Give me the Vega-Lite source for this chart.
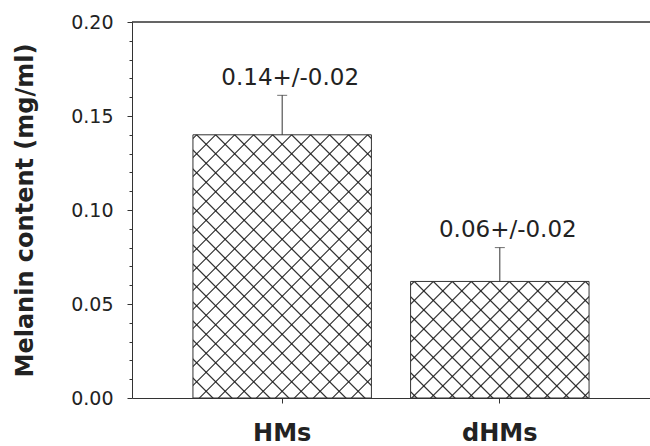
{
  "$schema": "https://vega.github.io/schema/vega-lite/v6.json",
  "width": 518,
  "height": 376,
  "autosize": {"type": "none"},
  "padding": {"left": 132, "top": 22, "right": 0, "bottom": 48},
  "background": "white",
  "config": {
    "view": {"stroke": null},
    "scale": {"bandPaddingInner": 0.18, "bandPaddingOuter": 0.28},
    "axisX": {"title": null, "labelAngle": 0, "labelFont": "DejaVu Sans", "labelFontWeight": "bold", "labelFontSize": 24, "labelColor": "#222", "labelBaseline": "alphabetic", "labelPadding": 37, "tickSize": 5, "tickColor": "#333", "domainColor": "#333", "grid": false},
    "axisY": {"labelFont": "DejaVu Sans", "labelFontSize": 19, "labelColor": "#222", "labelPadding": 14, "labelOverlap": false, "labelFlush": false, "labelBound": false, "domainColor": "#333", "tickColor": "#333", "grid": false, "titleFont": "DejaVu Sans", "titleFontWeight": "bold", "titleFontSize": 24, "titleColor": "#222", "titleAngle": 270, "titleBaseline": "alphabetic", "titleX": -100, "titleY": 188, "titleAlign": "center"}
  },
  "data": {
    "values": [
      {"group": "HMs", "value": 0.14, "upper": 0.161, "label": "0.14+/-0.02"},
      {"group": "dHMs", "value": 0.062, "upper": 0.080, "label": "0.06+/-0.02"}
    ]
  },
  "layer": [
    {
      "mark": {"type": "bar", "fill": "white"},
      "encoding": {
        "x": {"field": "group", "type": "nominal", "sort": null, "axis": {"title": null}},
        "y": {"field": "value", "type": "quantitative", "scale": {"domain": [0, 0.2]},
          "axis": {"title": "Melanin content (mg/ml)", "labelOverlap": false, "values": [0, 0.01, 0.02, 0.03, 0.04, 0.05, 0.06, 0.07, 0.08, 0.09, 0.1, 0.11, 0.12, 0.13, 0.14, 0.15, 0.16, 0.17, 0.18, 0.19, 0.2],
            "labelExpr": "round(datum.value*100) % 5 == 0 ? format(datum.value, '.2f') : ''",
            "tickSize": {"condition": {"test": "round(datum.value*100) % 5 != 0", "value": 3}, "value": 5}}}
      }
    },
    {
      "mark": {"type": "bar"},
      "encoding": {
        "x": {"field": "group", "type": "nominal", "sort": null, "axis": {"title": null}},
        "y": {"field": "value", "type": "quantitative",
          "axis": {"title": "Melanin content (mg/ml)", "labelOverlap": false, "values": [0, 0.01, 0.02, 0.03, 0.04, 0.05, 0.06, 0.07, 0.08, 0.09, 0.1, 0.11, 0.12, 0.13, 0.14, 0.15, 0.16, 0.17, 0.18, 0.19, 0.2],
            "labelExpr": "round(datum.value*100) % 5 == 0 ? format(datum.value, '.2f') : ''",
            "tickSize": {"condition": {"test": "round(datum.value*100) % 5 != 0", "value": 3}, "value": 5}}},
        "fill": {"condition": {"test": "datum.group == 'HMs'", "value": {"gradient": "linear", "x1": 0, "y1": 0, "x2": 0.7795, "y2": 1.1495, "stops": [
        {"offset": 0.0050, "color": "rgba(0,0,0,0)"}, {"offset": 0.0084, "color": "#222"}, {"offset": 0.0118, "color": "rgba(0,0,0,0)"},
        {"offset": 0.0480, "color": "rgba(0,0,0,0)"}, {"offset": 0.0514, "color": "#222"}, {"offset": 0.0548, "color": "rgba(0,0,0,0)"},
        {"offset": 0.0910, "color": "rgba(0,0,0,0)"}, {"offset": 0.0944, "color": "#222"}, {"offset": 0.0978, "color": "rgba(0,0,0,0)"},
        {"offset": 0.1340, "color": "rgba(0,0,0,0)"}, {"offset": 0.1374, "color": "#222"}, {"offset": 0.1408, "color": "rgba(0,0,0,0)"},
        {"offset": 0.1770, "color": "rgba(0,0,0,0)"}, {"offset": 0.1804, "color": "#222"}, {"offset": 0.1838, "color": "rgba(0,0,0,0)"},
        {"offset": 0.2201, "color": "rgba(0,0,0,0)"}, {"offset": 0.2235, "color": "#222"}, {"offset": 0.2269, "color": "rgba(0,0,0,0)"},
        {"offset": 0.2631, "color": "rgba(0,0,0,0)"}, {"offset": 0.2665, "color": "#222"}, {"offset": 0.2699, "color": "rgba(0,0,0,0)"},
        {"offset": 0.3061, "color": "rgba(0,0,0,0)"}, {"offset": 0.3095, "color": "#222"}, {"offset": 0.3129, "color": "rgba(0,0,0,0)"},
        {"offset": 0.3491, "color": "rgba(0,0,0,0)"}, {"offset": 0.3525, "color": "#222"}, {"offset": 0.3559, "color": "rgba(0,0,0,0)"},
        {"offset": 0.3921, "color": "rgba(0,0,0,0)"}, {"offset": 0.3955, "color": "#222"}, {"offset": 0.3989, "color": "rgba(0,0,0,0)"},
        {"offset": 0.4352, "color": "rgba(0,0,0,0)"}, {"offset": 0.4386, "color": "#222"}, {"offset": 0.4420, "color": "rgba(0,0,0,0)"},
        {"offset": 0.4782, "color": "rgba(0,0,0,0)"}, {"offset": 0.4816, "color": "#222"}, {"offset": 0.4850, "color": "rgba(0,0,0,0)"},
        {"offset": 0.5212, "color": "rgba(0,0,0,0)"}, {"offset": 0.5246, "color": "#222"}, {"offset": 0.5280, "color": "rgba(0,0,0,0)"},
        {"offset": 0.5642, "color": "rgba(0,0,0,0)"}, {"offset": 0.5676, "color": "#222"}, {"offset": 0.5710, "color": "rgba(0,0,0,0)"},
        {"offset": 0.6072, "color": "rgba(0,0,0,0)"}, {"offset": 0.6106, "color": "#222"}, {"offset": 0.6140, "color": "rgba(0,0,0,0)"},
        {"offset": 0.6502, "color": "rgba(0,0,0,0)"}, {"offset": 0.6536, "color": "#222"}, {"offset": 0.6570, "color": "rgba(0,0,0,0)"},
        {"offset": 0.6933, "color": "rgba(0,0,0,0)"}, {"offset": 0.6967, "color": "#222"}, {"offset": 0.7001, "color": "rgba(0,0,0,0)"},
        {"offset": 0.7363, "color": "rgba(0,0,0,0)"}, {"offset": 0.7397, "color": "#222"}, {"offset": 0.7431, "color": "rgba(0,0,0,0)"},
        {"offset": 0.7793, "color": "rgba(0,0,0,0)"}, {"offset": 0.7827, "color": "#222"}, {"offset": 0.7861, "color": "rgba(0,0,0,0)"},
        {"offset": 0.8223, "color": "rgba(0,0,0,0)"}, {"offset": 0.8257, "color": "#222"}, {"offset": 0.8291, "color": "rgba(0,0,0,0)"},
        {"offset": 0.8653, "color": "rgba(0,0,0,0)"}, {"offset": 0.8687, "color": "#222"}, {"offset": 0.8721, "color": "rgba(0,0,0,0)"},
        {"offset": 0.9084, "color": "rgba(0,0,0,0)"}, {"offset": 0.9118, "color": "#222"}, {"offset": 0.9152, "color": "rgba(0,0,0,0)"},
        {"offset": 0.9514, "color": "rgba(0,0,0,0)"}, {"offset": 0.9548, "color": "#222"}, {"offset": 0.9582, "color": "rgba(0,0,0,0)"}
      ]}},
        "value": {"gradient": "linear", "x1": 0, "y1": 0, "x2": 1.1588, "y2": 0.7568, "stops": [
        {"offset": 0.0074, "color": "rgba(0,0,0,0)"}, {"offset": 0.0125, "color": "#222"}, {"offset": 0.0176, "color": "rgba(0,0,0,0)"},
        {"offset": 0.0718, "color": "rgba(0,0,0,0)"}, {"offset": 0.0769, "color": "#222"}, {"offset": 0.0820, "color": "rgba(0,0,0,0)"},
        {"offset": 0.1362, "color": "rgba(0,0,0,0)"}, {"offset": 0.1413, "color": "#222"}, {"offset": 0.1464, "color": "rgba(0,0,0,0)"},
        {"offset": 0.2006, "color": "rgba(0,0,0,0)"}, {"offset": 0.2057, "color": "#222"}, {"offset": 0.2108, "color": "rgba(0,0,0,0)"},
        {"offset": 0.2650, "color": "rgba(0,0,0,0)"}, {"offset": 0.2701, "color": "#222"}, {"offset": 0.2752, "color": "rgba(0,0,0,0)"},
        {"offset": 0.3294, "color": "rgba(0,0,0,0)"}, {"offset": 0.3345, "color": "#222"}, {"offset": 0.3396, "color": "rgba(0,0,0,0)"},
        {"offset": 0.3938, "color": "rgba(0,0,0,0)"}, {"offset": 0.3989, "color": "#222"}, {"offset": 0.4040, "color": "rgba(0,0,0,0)"},
        {"offset": 0.4582, "color": "rgba(0,0,0,0)"}, {"offset": 0.4633, "color": "#222"}, {"offset": 0.4684, "color": "rgba(0,0,0,0)"},
        {"offset": 0.5226, "color": "rgba(0,0,0,0)"}, {"offset": 0.5277, "color": "#222"}, {"offset": 0.5328, "color": "rgba(0,0,0,0)"},
        {"offset": 0.5870, "color": "rgba(0,0,0,0)"}, {"offset": 0.5921, "color": "#222"}, {"offset": 0.5972, "color": "rgba(0,0,0,0)"},
        {"offset": 0.6514, "color": "rgba(0,0,0,0)"}, {"offset": 0.6565, "color": "#222"}, {"offset": 0.6616, "color": "rgba(0,0,0,0)"},
        {"offset": 0.7158, "color": "rgba(0,0,0,0)"}, {"offset": 0.7209, "color": "#222"}, {"offset": 0.7260, "color": "rgba(0,0,0,0)"},
        {"offset": 0.7802, "color": "rgba(0,0,0,0)"}, {"offset": 0.7853, "color": "#222"}, {"offset": 0.7904, "color": "rgba(0,0,0,0)"},
        {"offset": 0.8446, "color": "rgba(0,0,0,0)"}, {"offset": 0.8497, "color": "#222"}, {"offset": 0.8548, "color": "rgba(0,0,0,0)"},
        {"offset": 0.9091, "color": "rgba(0,0,0,0)"}, {"offset": 0.9142, "color": "#222"}, {"offset": 0.9193, "color": "rgba(0,0,0,0)"},
        {"offset": 0.9735, "color": "rgba(0,0,0,0)"}, {"offset": 0.9786, "color": "#222"}, {"offset": 0.9837, "color": "rgba(0,0,0,0)"}
      ]}}
      }
    },
    {
      "mark": {"type": "bar"},
      "encoding": {
        "x": {"field": "group", "type": "nominal", "sort": null, "axis": {"title": null}},
        "y": {"field": "value", "type": "quantitative",
          "axis": {"title": "Melanin content (mg/ml)", "labelOverlap": false, "values": [0, 0.01, 0.02, 0.03, 0.04, 0.05, 0.06, 0.07, 0.08, 0.09, 0.1, 0.11, 0.12, 0.13, 0.14, 0.15, 0.16, 0.17, 0.18, 0.19, 0.2],
            "labelExpr": "round(datum.value*100) % 5 == 0 ? format(datum.value, '.2f') : ''",
            "tickSize": {"condition": {"test": "round(datum.value*100) % 5 != 0", "value": 3}, "value": 5}}},
        "fill": {"condition": {"test": "datum.group == 'HMs'", "value": {"gradient": "linear", "x1": 0, "y1": 1, "x2": 0.7795, "y2": -0.1495, "stops": [
        {"offset": 0.0417, "color": "rgba(0,0,0,0)"}, {"offset": 0.0451, "color": "#222"}, {"offset": 0.0485, "color": "rgba(0,0,0,0)"},
        {"offset": 0.0847, "color": "rgba(0,0,0,0)"}, {"offset": 0.0881, "color": "#222"}, {"offset": 0.0915, "color": "rgba(0,0,0,0)"},
        {"offset": 0.1277, "color": "rgba(0,0,0,0)"}, {"offset": 0.1311, "color": "#222"}, {"offset": 0.1345, "color": "rgba(0,0,0,0)"},
        {"offset": 0.1707, "color": "rgba(0,0,0,0)"}, {"offset": 0.1741, "color": "#222"}, {"offset": 0.1775, "color": "rgba(0,0,0,0)"},
        {"offset": 0.2137, "color": "rgba(0,0,0,0)"}, {"offset": 0.2171, "color": "#222"}, {"offset": 0.2205, "color": "rgba(0,0,0,0)"},
        {"offset": 0.2567, "color": "rgba(0,0,0,0)"}, {"offset": 0.2601, "color": "#222"}, {"offset": 0.2635, "color": "rgba(0,0,0,0)"},
        {"offset": 0.2998, "color": "rgba(0,0,0,0)"}, {"offset": 0.3032, "color": "#222"}, {"offset": 0.3066, "color": "rgba(0,0,0,0)"},
        {"offset": 0.3428, "color": "rgba(0,0,0,0)"}, {"offset": 0.3462, "color": "#222"}, {"offset": 0.3496, "color": "rgba(0,0,0,0)"},
        {"offset": 0.3858, "color": "rgba(0,0,0,0)"}, {"offset": 0.3892, "color": "#222"}, {"offset": 0.3926, "color": "rgba(0,0,0,0)"},
        {"offset": 0.4288, "color": "rgba(0,0,0,0)"}, {"offset": 0.4322, "color": "#222"}, {"offset": 0.4356, "color": "rgba(0,0,0,0)"},
        {"offset": 0.4718, "color": "rgba(0,0,0,0)"}, {"offset": 0.4752, "color": "#222"}, {"offset": 0.4786, "color": "rgba(0,0,0,0)"},
        {"offset": 0.5149, "color": "rgba(0,0,0,0)"}, {"offset": 0.5183, "color": "#222"}, {"offset": 0.5217, "color": "rgba(0,0,0,0)"},
        {"offset": 0.5579, "color": "rgba(0,0,0,0)"}, {"offset": 0.5613, "color": "#222"}, {"offset": 0.5647, "color": "rgba(0,0,0,0)"},
        {"offset": 0.6009, "color": "rgba(0,0,0,0)"}, {"offset": 0.6043, "color": "#222"}, {"offset": 0.6077, "color": "rgba(0,0,0,0)"},
        {"offset": 0.6439, "color": "rgba(0,0,0,0)"}, {"offset": 0.6473, "color": "#222"}, {"offset": 0.6507, "color": "rgba(0,0,0,0)"},
        {"offset": 0.6869, "color": "rgba(0,0,0,0)"}, {"offset": 0.6903, "color": "#222"}, {"offset": 0.6937, "color": "rgba(0,0,0,0)"},
        {"offset": 0.7299, "color": "rgba(0,0,0,0)"}, {"offset": 0.7333, "color": "#222"}, {"offset": 0.7367, "color": "rgba(0,0,0,0)"},
        {"offset": 0.7730, "color": "rgba(0,0,0,0)"}, {"offset": 0.7764, "color": "#222"}, {"offset": 0.7798, "color": "rgba(0,0,0,0)"},
        {"offset": 0.8160, "color": "rgba(0,0,0,0)"}, {"offset": 0.8194, "color": "#222"}, {"offset": 0.8228, "color": "rgba(0,0,0,0)"},
        {"offset": 0.8590, "color": "rgba(0,0,0,0)"}, {"offset": 0.8624, "color": "#222"}, {"offset": 0.8658, "color": "rgba(0,0,0,0)"},
        {"offset": 0.9020, "color": "rgba(0,0,0,0)"}, {"offset": 0.9054, "color": "#222"}, {"offset": 0.9088, "color": "rgba(0,0,0,0)"},
        {"offset": 0.9450, "color": "rgba(0,0,0,0)"}, {"offset": 0.9484, "color": "#222"}, {"offset": 0.9518, "color": "rgba(0,0,0,0)"},
        {"offset": 0.9881, "color": "rgba(0,0,0,0)"}, {"offset": 0.9915, "color": "#222"}, {"offset": 0.9949, "color": "rgba(0,0,0,0)"}
      ]}},
        "value": {"gradient": "linear", "x1": 0, "y1": 1, "x2": 1.1588, "y2": 0.2432, "stops": [
        {"offset": 0.0161, "color": "rgba(0,0,0,0)"}, {"offset": 0.0212, "color": "#222"}, {"offset": 0.0263, "color": "rgba(0,0,0,0)"},
        {"offset": 0.0805, "color": "rgba(0,0,0,0)"}, {"offset": 0.0856, "color": "#222"}, {"offset": 0.0907, "color": "rgba(0,0,0,0)"},
        {"offset": 0.1449, "color": "rgba(0,0,0,0)"}, {"offset": 0.1500, "color": "#222"}, {"offset": 0.1551, "color": "rgba(0,0,0,0)"},
        {"offset": 0.2093, "color": "rgba(0,0,0,0)"}, {"offset": 0.2144, "color": "#222"}, {"offset": 0.2195, "color": "rgba(0,0,0,0)"},
        {"offset": 0.2737, "color": "rgba(0,0,0,0)"}, {"offset": 0.2788, "color": "#222"}, {"offset": 0.2839, "color": "rgba(0,0,0,0)"},
        {"offset": 0.3381, "color": "rgba(0,0,0,0)"}, {"offset": 0.3432, "color": "#222"}, {"offset": 0.3483, "color": "rgba(0,0,0,0)"},
        {"offset": 0.4025, "color": "rgba(0,0,0,0)"}, {"offset": 0.4076, "color": "#222"}, {"offset": 0.4127, "color": "rgba(0,0,0,0)"},
        {"offset": 0.4669, "color": "rgba(0,0,0,0)"}, {"offset": 0.4720, "color": "#222"}, {"offset": 0.4771, "color": "rgba(0,0,0,0)"},
        {"offset": 0.5313, "color": "rgba(0,0,0,0)"}, {"offset": 0.5364, "color": "#222"}, {"offset": 0.5415, "color": "rgba(0,0,0,0)"},
        {"offset": 0.5957, "color": "rgba(0,0,0,0)"}, {"offset": 0.6008, "color": "#222"}, {"offset": 0.6059, "color": "rgba(0,0,0,0)"},
        {"offset": 0.6601, "color": "rgba(0,0,0,0)"}, {"offset": 0.6652, "color": "#222"}, {"offset": 0.6703, "color": "rgba(0,0,0,0)"},
        {"offset": 0.7245, "color": "rgba(0,0,0,0)"}, {"offset": 0.7296, "color": "#222"}, {"offset": 0.7347, "color": "rgba(0,0,0,0)"},
        {"offset": 0.7889, "color": "rgba(0,0,0,0)"}, {"offset": 0.7940, "color": "#222"}, {"offset": 0.7991, "color": "rgba(0,0,0,0)"},
        {"offset": 0.8533, "color": "rgba(0,0,0,0)"}, {"offset": 0.8584, "color": "#222"}, {"offset": 0.8635, "color": "rgba(0,0,0,0)"},
        {"offset": 0.9177, "color": "rgba(0,0,0,0)"}, {"offset": 0.9228, "color": "#222"}, {"offset": 0.9279, "color": "rgba(0,0,0,0)"},
        {"offset": 0.9821, "color": "rgba(0,0,0,0)"}, {"offset": 0.9872, "color": "#222"}, {"offset": 0.9923, "color": "rgba(0,0,0,0)"}
      ]}}
      }
    },
    {
      "mark": {"type": "bar", "fill": "white", "fillOpacity": 0, "stroke": "#333", "strokeWidth": 1},
      "encoding": {
        "x": {"field": "group", "type": "nominal", "sort": null, "axis": {"title": null}},
        "y": {"field": "value", "type": "quantitative",
          "axis": {"title": "Melanin content (mg/ml)", "labelOverlap": false, "values": [0, 0.01, 0.02, 0.03, 0.04, 0.05, 0.06, 0.07, 0.08, 0.09, 0.1, 0.11, 0.12, 0.13, 0.14, 0.15, 0.16, 0.17, 0.18, 0.19, 0.2],
            "labelExpr": "round(datum.value*100) % 5 == 0 ? format(datum.value, '.2f') : ''",
            "tickSize": {"condition": {"test": "round(datum.value*100) % 5 != 0", "value": 3}, "value": 5}}}
      }
    },
    {
      "mark": {"type": "rule", "color": "#333", "strokeWidth": 1},
      "encoding": {
        "x": {"field": "group", "type": "nominal", "sort": null, "axis": {"title": null}},
        "y": {"field": "value", "type": "quantitative",
          "axis": {"title": "Melanin content (mg/ml)", "labelOverlap": false, "values": [0, 0.01, 0.02, 0.03, 0.04, 0.05, 0.06, 0.07, 0.08, 0.09, 0.1, 0.11, 0.12, 0.13, 0.14, 0.15, 0.16, 0.17, 0.18, 0.19, 0.2],
            "labelExpr": "round(datum.value*100) % 5 == 0 ? format(datum.value, '.2f') : ''",
            "tickSize": {"condition": {"test": "round(datum.value*100) % 5 != 0", "value": 3}, "value": 5}}},
        "y2": {"field": "upper"}
      }
    },
    {
      "mark": {"type": "tick", "color": "#333", "size": 10, "thickness": 1},
      "encoding": {
        "x": {"field": "group", "type": "nominal", "sort": null, "axis": {"title": null}},
        "y": {"field": "upper", "type": "quantitative",
          "axis": {"title": "Melanin content (mg/ml)", "labelOverlap": false, "values": [0, 0.01, 0.02, 0.03, 0.04, 0.05, 0.06, 0.07, 0.08, 0.09, 0.1, 0.11, 0.12, 0.13, 0.14, 0.15, 0.16, 0.17, 0.18, 0.19, 0.2],
            "labelExpr": "round(datum.value*100) % 5 == 0 ? format(datum.value, '.2f') : ''",
            "tickSize": {"condition": {"test": "round(datum.value*100) % 5 != 0", "value": 3}, "value": 5}}}
      }
    },
    {
      "mark": {"type": "text", "font": "DejaVu Sans", "fontSize": 23, "color": "#222", "baseline": "alphabetic", "dy": -10.5, "dx": 8},
      "encoding": {
        "x": {"field": "group", "type": "nominal", "sort": null, "axis": {"title": null}},
        "y": {"field": "upper", "type": "quantitative",
          "axis": {"title": "Melanin content (mg/ml)", "labelOverlap": false, "values": [0, 0.01, 0.02, 0.03, 0.04, 0.05, 0.06, 0.07, 0.08, 0.09, 0.1, 0.11, 0.12, 0.13, 0.14, 0.15, 0.16, 0.17, 0.18, 0.19, 0.2],
            "labelExpr": "round(datum.value*100) % 5 == 0 ? format(datum.value, '.2f') : ''",
            "tickSize": {"condition": {"test": "round(datum.value*100) % 5 != 0", "value": 3}, "value": 5}}},
        "text": {"field": "label"}
      }
    },
    {
      "mark": {"type": "rule", "color": "#333", "strokeWidth": 1},
      "encoding": {
        "y": {"datum": 0.2, "type": "quantitative",
          "axis": {"title": "Melanin content (mg/ml)", "labelOverlap": false, "values": [0, 0.01, 0.02, 0.03, 0.04, 0.05, 0.06, 0.07, 0.08, 0.09, 0.1, 0.11, 0.12, 0.13, 0.14, 0.15, 0.16, 0.17, 0.18, 0.19, 0.2],
            "labelExpr": "round(datum.value*100) % 5 == 0 ? format(datum.value, '.2f') : ''",
            "tickSize": {"condition": {"test": "round(datum.value*100) % 5 != 0", "value": 3}, "value": 5}}}
      }
    }
  ]
}
